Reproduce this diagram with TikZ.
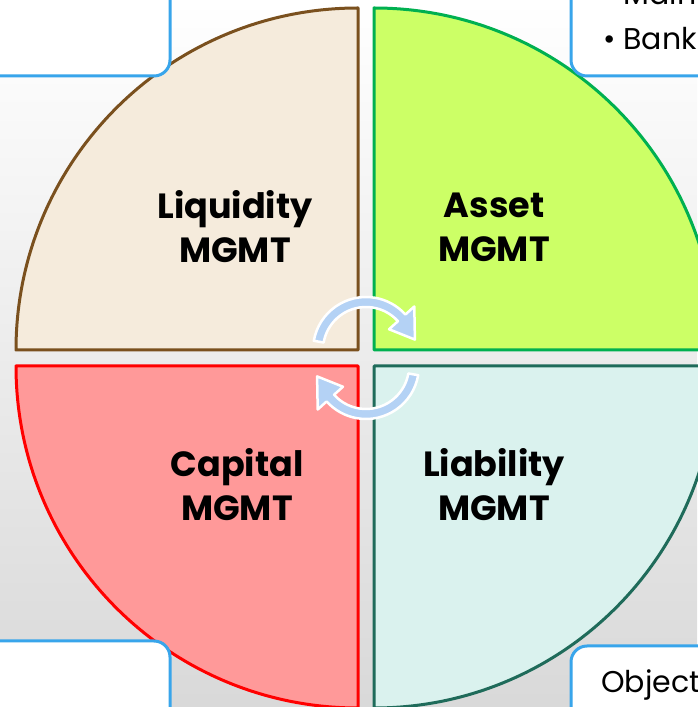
\documentclass[tikz,border=0pt]{standalone}
\usepackage{fontspec}
\setmainfont{Poppins}
\definecolor{LiqFill}{RGB}{245,235,220}
\definecolor{LiqLine}{RGB}{122,80,30}
\definecolor{AssetFill}{RGB}{204,255,102}
\definecolor{AssetLine}{RGB}{0,176,80}
\definecolor{CapFill}{RGB}{255,153,153}
\definecolor{CapLine}{RGB}{255,0,0}
\definecolor{LiabFill}{RGB}{218,242,238}
\definecolor{LiabLine}{RGB}{31,107,90}
\definecolor{BoxLine}{RGB}{56,165,235}
\definecolor{CycleColor}{RGB}{180,210,245}
\usetikzlibrary{positioning}

\begin{document}
\begin{tikzpicture}[x=1pt, y=1pt,
    quad/.style={line width=3pt, line join=round},
    infobox/.style={draw=BoxLine, fill=white, line width=3pt, rounded corners=16pt},
    cycarrow/.style={fill=CycleColor, draw=white, line width=2.5pt, line join=round},
    mgmt/.style={font=\fontsize{35}{44}\selectfont\bfseries, align=center},
    listtext/.style={font=\fontsize{30}{36}\selectfont, anchor=base west, inner sep=0pt}]
  \def\rad{342}
  % Background
  \shade[top color=white, bottom color=black!15] (0,0) rectangle (697,707);
  \useasboundingbox (0,0) rectangle (697,707);
  % Quadrants
  \filldraw[quad, fill=LiqFill, draw=LiqLine] (358,357) -- (16,357)
    arc[start angle=180, end angle=90, radius=\rad] -- cycle;
  \filldraw[quad, fill=AssetFill, draw=AssetLine] (374,357) -- (374,699)
    arc[start angle=90, end angle=0, radius=\rad] -- cycle;
  \filldraw[quad, fill=CapFill, draw=CapLine] (358,341) -- (16,341)
    arc[start angle=180, end angle=270, radius=\rad] -- cycle;
  \filldraw[quad, fill=LiabFill, draw=LiabLine] (374,341) -- (716,341)
    arc[start angle=0, end angle=-90, radius=\rad] -- cycle;
  % Corner boxes
  \draw[infobox] (-20,631) rectangle (170,730);
  \draw[infobox] (571,631) rectangle (720,730);
  \draw[infobox] (-20,66) rectangle (170,-20);
  \draw[infobox] (571,61) rectangle (720,-20);
  % Box texts
  \node[listtext] (main) at (603,702) {\textbullet\hspace{8pt}Main};
  \node[listtext] (bank) at (603,657) {\textbullet\hspace{8pt}Bank};
  \node[listtext] (obj) at (601,14) {Object};
  % Labels
  \node[mgmt] (liq) at (235,480) {Liquidity\\MGMT};
  \node[mgmt] (asset) at (494,480) {Asset\\MGMT};
  \node[mgmt] (cap) at (237,222) {Capital\\MGMT};
  \node[mgmt] (liab) at (494,222) {Liability\\MGMT};
  % Cycle arrows
  \foreach \cy/\r in {357/0, 341/180} {
    \filldraw[cycarrow, shift={(366,\cy)}] (170+\r:53)
      arc[start angle=170+\r, end angle=42+\r, radius=53]
      -- (42+\r:65) -- (12+\r:50) -- (42+\r:31) -- (42+\r:43)
      arc[start angle=42+\r, end angle=170+\r, radius=43] -- cycle;
  }
\end{tikzpicture}
\end{document}
